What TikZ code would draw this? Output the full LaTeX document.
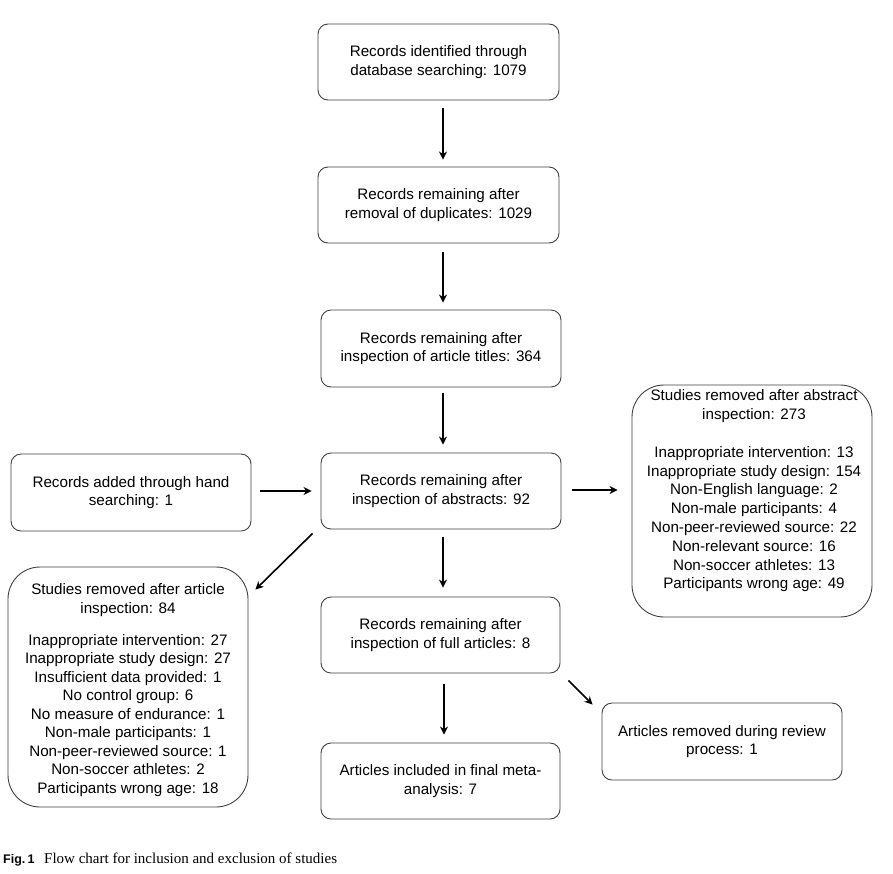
\documentclass[tikz,border=0pt]{standalone}
\usepackage{fontspec}
\setmainfont{Liberation Sans}
\newfontfamily\capserif{Liberation Serif}
\usetikzlibrary{arrows.meta}
\definecolor{boxline}{HTML}{404040}
\tikzset{
  box/.style={draw=boxline, line width=0.9pt, rounded corners=10pt, minimum width=240pt, minimum height=76pt, inner sep=0pt, align=center, font=\fontsize{15.2}{18.5}\selectfont},
  bigbox/.style={draw=boxline, line width=0.9pt, rounded corners=32pt, minimum width=240pt, inner sep=0pt},
  listtxt/.style={align=center, inner sep=0pt, font=\fontsize{15.2}{18.8}\selectfont},
  arr/.style={draw=black, line width=1.6pt, -{Stealth[length=8pt, width=8pt, inset=2.5pt]}},
  thickarr/.style={arr, line width=2.4pt}
}
\begin{document}
\begin{tikzpicture}[x=1pt, y=-1pt]
\useasboundingbox (0,0) rectangle (893,873);
\fill[white] (0,0) rectangle (893,873);

\node[box, minimum width=241pt] (b1) at (438.5,62) {Records identified through\\database searching: 1079};
\node[box, minimum width=241pt] (b2) at (438.5,205) {Records remaining after\\removal of duplicates: 1029};
\node[box, minimum height=77pt] (b3) at (441,348.5) {Records remaining after\\inspection of article titles: 364};
\node[box] (b4) at (441,491) {Records remaining after\\inspection of abstracts: 92};
\node[box, minimum height=77pt] (hand) at (131,492.5) {Records added through hand\\searching: 1};
\node[box, minimum width=239pt] (b5) at (440.5,635) {Records remaining after\\inspection of full articles: 8};
\node[box, minimum width=239pt] (b6) at (440.5,781) {Articles included in final meta-\\analysis: 7};
\node[box, minimum height=77pt] (b7) at (722,741.5) {Articles removed during review\\process: 1};

\node[bigbox, minimum height=232pt] (absbox) at (752,501) {};
\node[listtxt] (abstxt) at (754,491) {Studies removed after abstract\\inspection: 273\\[18.8pt]Inappropriate intervention: 13\\Inappropriate study design: 154\\Non-English language: 2\\Non-male participants: 4\\Non-peer-reviewed source: 22\\Non-relevant source: 16\\Non-soccer athletes: 13\\Participants wrong age: 49};

\node[bigbox, minimum height=240pt] (artbox) at (128,687) {};
\node[listtxt, font=\fontsize{15.2}{18.5}\selectfont] (arttxt) at (128,690) {Studies removed after article\\inspection: 84\\[13.5pt]Inappropriate intervention: 27\\Inappropriate study design: 27\\Insufficient data provided: 1\\No control group: 6\\No measure of endurance: 1\\Non-male participants: 1\\Non-peer-reviewed source: 1\\Non-soccer athletes: 2\\Participants wrong age: 18};

\draw[arr] ([xshift=4.5pt,yshift=-8pt]b1.south) -- ([xshift=4.5pt,yshift=7pt]b2.north);
\draw[thickarr] ([xshift=4.5pt,yshift=-9pt]b2.south) -- ([xshift=2pt,yshift=7pt]b3.north);
\draw[arr] ([xshift=2pt,yshift=-6pt]b3.south) -- ([xshift=2pt,yshift=8pt]b4.north);
\draw[arr] ([xshift=9pt,yshift=1.5pt]hand.east) -- ([xshift=-9pt]b4.west);
\draw[arr] ([xshift=11pt,yshift=1pt]b4.east) -- ([xshift=-14pt,yshift=11pt]absbox.west);
\draw[arr] ([xshift=2pt,yshift=-8pt]b4.south) -- ([xshift=2.5pt,yshift=9pt]b5.north);
\draw[arr] ([xshift=-8pt,yshift=-4pt]b4.south west) -- ([xshift=7pt,yshift=-23pt]artbox.north east);
\draw[arr] ([xshift=3.5pt,yshift=-11pt]b5.south) -- ([xshift=3.5pt,yshift=8pt]b6.north);
\draw[arr] ([xshift=8pt,yshift=-7pt]b5.south east) -- ([xshift=-9pt,yshift=-2pt]b7.north west);

\node[anchor=base west, inner sep=0pt, font=\fontsize{12.5}{14}\selectfont\bfseries] (figlbl) at (3,863) {Fig.\,1};
\node[anchor=base west, inner sep=0pt, font=\capserif\fontsize{15}{16}\selectfont] (figcap) at (44,863) {Flow chart for inclusion and exclusion of studies};
\end{tikzpicture}
\end{document}
